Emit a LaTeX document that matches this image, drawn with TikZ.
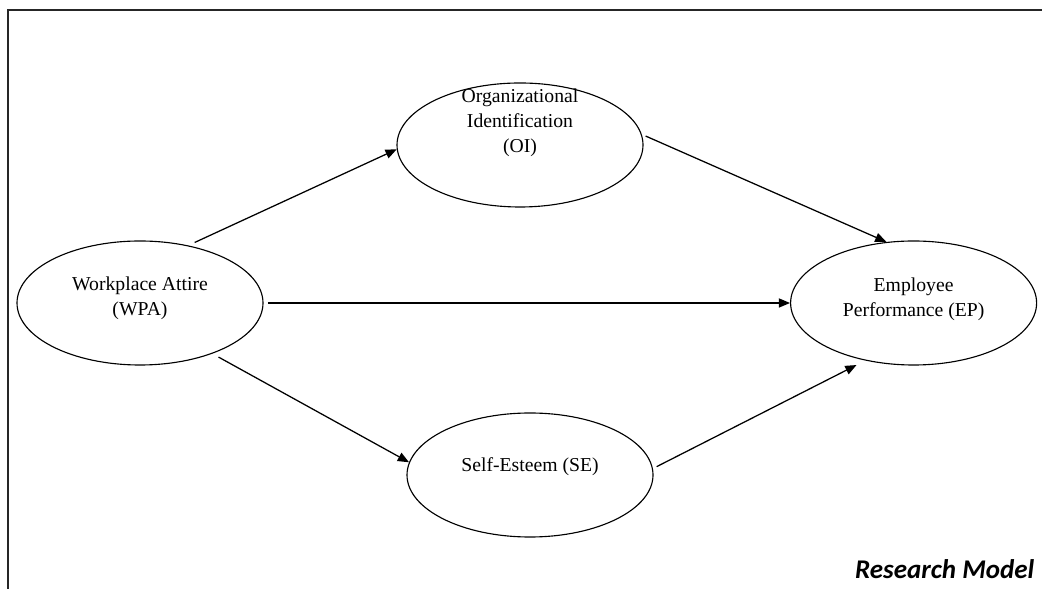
\documentclass[tikz,border=0pt]{standalone}
\usepackage{fontspec}
\setmainfont{Liberation Serif}
\newfontfamily\modelfont{Carlito}
\usetikzlibrary{shapes.geometric,arrows.meta}
\tikzset{every node/.append style={align=center}}

\begin{document}
\begin{tikzpicture}[
    construct/.style={draw, ellipse, line width=0.8pt, minimum width=6.15cm, minimum height=3.1cm, inner sep=0pt, font=\fontsize{14}{17.8}\selectfont},
    link/.style={line width=0.9pt, -{Triangle[length=8pt, width=6.5pt]}, shorten <=3pt}
]
    \useasboundingbox (0, 0) rectangle (26.05, 14.7);

    % Frame
    \draw[line width=1.4pt, black!85] (0.2, 14.45) rectangle (26.6, -0.6);

    % Workplace Attire
    \node[construct, text height=23.8pt, text depth=6.6pt] (wpa) at (3.5, 7.125) {Workplace Attire\\(WPA)};

    % Organizational Identification
    \node[construct, text height=29.6pt, text depth=18.6pt] (oi) at (13.0, 11.075) {Organizational\\Identification\\(OI)};

    % Self-Esteem
    \node[construct, text height=3.9pt, text depth=8.7pt] (se) at (13.25, 2.825) {Self-Esteem (SE)};

    % Employee Performance
    \node[construct, text height=24.6pt, text depth=5.8pt] (ep) at (22.84, 7.125) {Employee\\Performance (EP)};

    % Paths
    \draw[link, shorten <=5pt] (wpa.50) -- (oi.182);
    \draw[link] (oi.5) -- (ep.114);
    \draw[link] (wpa.east) -- (ep.west);
    \draw[link, shorten <=5pt] (wpa.-35) -- (se.174);
    \draw[link, shorten >=7pt] (se.3) -- (ep.230);

    % Caption
    \node[font=\modelfont\bfseries\itshape\fontsize{19.2}{22}\selectfont, anchor=base east] (model) at (25.98, 0.225) {Research Model};

\end{tikzpicture}
\end{document}
